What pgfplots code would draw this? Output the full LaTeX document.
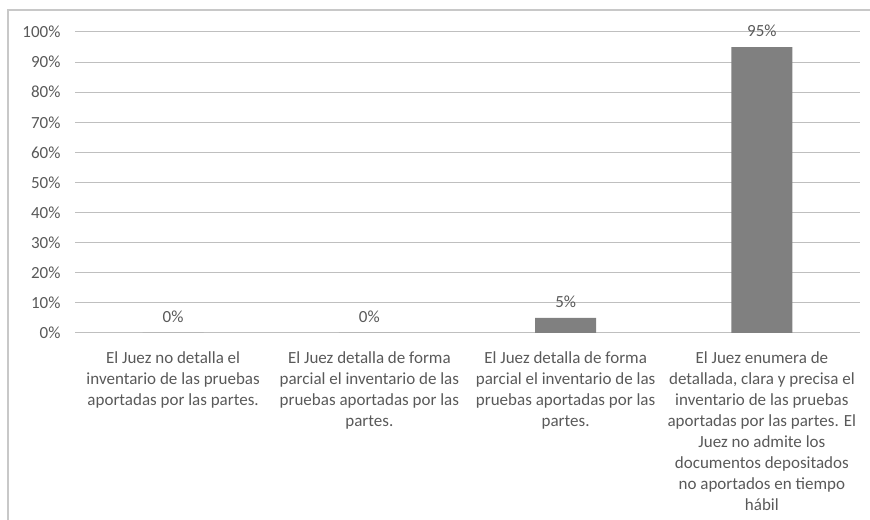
\documentclass[border=0pt]{standalone}
\usepackage{pgfplots}
\pgfplotsset{compat=1.18}
\usepackage{fontspec}
\setmainfont{Carlito}
\definecolor{txt}{HTML}{595959}
\definecolor{grid}{HTML}{D9D9D9}
\definecolor{bar}{HTML}{808080}
\definecolor{frame}{HTML}{C8C8C8}
\begin{document}
\begin{tikzpicture}[x=1bp,y=1bp]
\useasboundingbox (0,0) rectangle (870,520);
\draw[frame, line width=1.5bp] (8,-5) -- (8,510) -- (875,510);
\begin{axis}[
  at={(75bp,187bp)}, anchor=south west,
  scale only axis, width=785bp, height=301bp,
  xmin=-0.5, xmax=3.5, ymin=0, ymax=100,
  axis line style={draw=none},
  ytick={0,10,...,100},
  yticklabels={0\%,10\%,20\%,30\%,40\%,50\%,60\%,70\%,80\%,90\%,100\%},
  xmajorgrids=false, ymajorgrids, grid style={grid, line width=1bp},
  major tick style={draw=none}, major tick length=0pt,
  xtick={0,1,2,3},
  xticklabels={
    {El Juez no detalla el\\inventario de las pruebas\\aportadas por las partes.},
    {El Juez detalla de forma\\parcial el inventario de las\\pruebas aportadas por las\\partes.},
    {El Juez detalla de forma\\parcial el inventario de las\\pruebas aportadas por las\\partes.},
    {El Juez enumera de\\detallada, clara y precisa el\\inventario de las pruebas\\aportadas por las partes. El\\Juez no admite los\\documentos depositados\\no aportados en tiempo\\hábil}},
  xticklabel style={align=center, font=\fontsize{17bp}{21bp}\selectfont, text=txt, anchor=north, yshift=-15bp},
  yticklabel style={font=\fontsize{17bp}{17bp}\selectfont, text=txt, xshift=-11bp},
  ybar, bar width=61bp,
  nodes near coords={\pgfmathprintnumber[assume math mode=true]{\pgfplotspointmeta}\%},
  nodes near coords style={font=\fontsize{17bp}{17bp}\selectfont, text=txt, anchor=south, yshift=7bp},
  clip=false,
]
\addplot[fill=bar, draw=none] coordinates {(0,0) (1,0) (2,5) (3,95)};
\end{axis}
\end{tikzpicture}
\end{document}
